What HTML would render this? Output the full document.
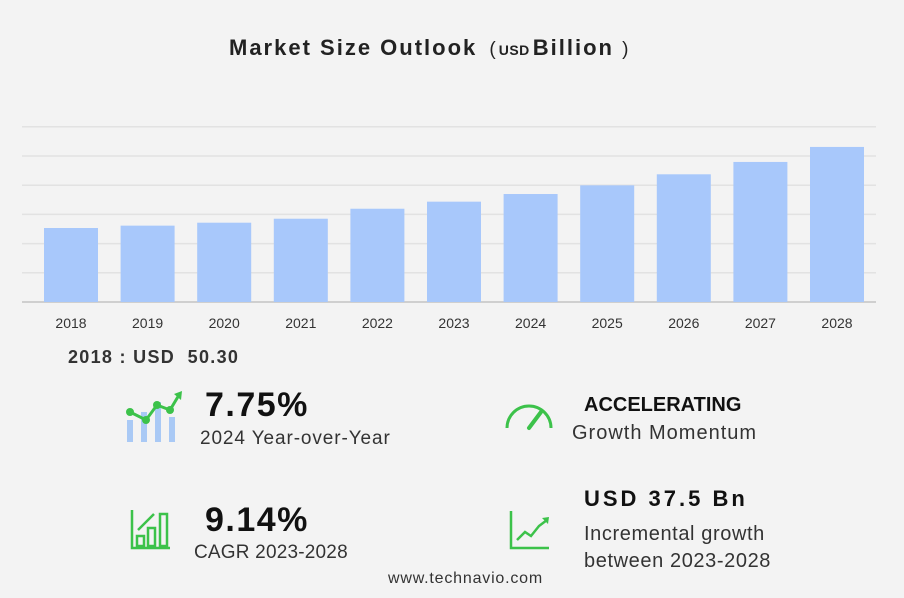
<!DOCTYPE html>
<html><head><meta charset="utf-8"><style>
body{margin:0;background:#f3f3f3;font-family:"Liberation Sans",sans-serif;}
#wrap{position:relative;width:904px;height:598px;overflow:hidden;background:#f3f3f3;}
.t{position:absolute;white-space:nowrap;color:#222;}
</style></head><body>
<div id="wrap">
<div class="t" style="left:229px;top:35px;font-size:22px;font-weight:bold;letter-spacing:2px;">Market Size Outlook <span style="font-weight:normal;font-size:19px;margin-left:4px;letter-spacing:0">(</span><span style="font-size:14px;margin:0 3px;letter-spacing:0.5px">USD</span>Billion <span style="font-weight:normal;font-size:19px;letter-spacing:0">)</span></div>
<svg id="chart" width="904" height="340" style="position:absolute;left:0;top:0"></svg>
<div class="t" style="left:68px;top:347px;font-size:18px;font-weight:bold;color:#333;letter-spacing:1.3px">2018 : USD&nbsp; 50.30</div>

<svg style="position:absolute;left:124px;top:390px" width="60" height="55">
<rect x="3" y="30" width="6" height="22" fill="#a9c9f5"/><rect x="17" y="22" width="6" height="30" fill="#a9c9f5"/><rect x="31" y="12" width="6" height="40" fill="#a9c9f5"/><rect x="45" y="27" width="6" height="25" fill="#a9c9f5"/>
<polyline points="6,22 22,30 33,15 46,20 55,5" fill="none" stroke="#3cc24a" stroke-width="3"/>
<circle cx="6" cy="22" r="4" fill="#3cc24a"/><circle cx="22" cy="30" r="4" fill="#3cc24a"/><circle cx="33" cy="15" r="4" fill="#3cc24a"/><circle cx="46" cy="20" r="4" fill="#3cc24a"/>
<polygon points="50,4 58,1 57,10" fill="#3cc24a"/></svg>
<div class="t" style="left:205px;top:386px;font-size:34px;font-weight:bold;color:#111;letter-spacing:1.5px">7.75%</div>
<div class="t" style="left:200px;top:428px;font-size:19px;color:#333;letter-spacing:0.9px">2024 Year-over-Year</div>

<svg style="position:absolute;left:503px;top:400px" width="52" height="32">
<path d="M4,28 A22,22 0 0 1 48,28" fill="none" stroke="#3cc24a" stroke-width="3"/>
<line x1="26" y1="28" x2="38" y2="12" stroke="#3cc24a" stroke-width="4" stroke-linecap="round"/></svg>
<div class="t" style="left:584px;top:394px;font-size:20px;font-weight:bold;color:#111">ACCELERATING</div>
<div class="t" style="left:572px;top:422px;font-size:20px;color:#333;letter-spacing:1px">Growth Momentum</div>

<svg style="position:absolute;left:130px;top:508px" width="42" height="42">
<path d="M2,2 V40 H40" fill="none" stroke="#3cc24a" stroke-width="2.5"/>
<rect x="7" y="28" width="7" height="10" fill="none" stroke="#3cc24a" stroke-width="2.5"/><rect x="18" y="20" width="7" height="18" fill="none" stroke="#3cc24a" stroke-width="2.5"/><rect x="30" y="6" width="7" height="32" fill="none" stroke="#3cc24a" stroke-width="2.5"/>
<line x1="8" y1="22" x2="24" y2="6" stroke="#3cc24a" stroke-width="2.5"/></svg>
<div class="t" style="left:205px;top:501px;font-size:34px;font-weight:bold;color:#111;letter-spacing:1.5px">9.14%</div>
<div class="t" style="left:194px;top:542px;font-size:19px;color:#333;letter-spacing:0.2px">CAGR 2023-2028</div>

<svg style="position:absolute;left:509px;top:510px" width="42" height="40">
<path d="M2,1 V38 H40" fill="none" stroke="#3cc24a" stroke-width="2.5"/>
<polyline points="8,30 16,22 22,26 30,16 38,10" fill="none" stroke="#3cc24a" stroke-width="2.5"/><polygon points="33,8 40,7 39,14" fill="#3cc24a"/></svg>
<div class="t" style="left:584px;top:486px;font-size:22px;font-weight:bold;color:#111;letter-spacing:3px">USD 37.5 Bn</div>
<div class="t" style="left:584px;top:521px;font-size:20px;color:#333;line-height:27px;letter-spacing:0.6px">Incremental growth<br>between 2023-2028</div>
<div class="t" style="left:388px;top:570px;font-size:16px;color:#333;letter-spacing:0.8px">www.technavio.com</div>
</div>
<script>
const years=["2018","2019","2020","2021","2022","2023","2024","2025","2026","2027","2028"];
const values=[50.3,51.9,53.9,56.6,63.4,68.2,73.4,79.3,86.8,95.2,105.4];
const gridCount=6;
const svg=document.getElementById('chart');const NS='http://www.w3.org/2000/svg';
const base=302, pxPer=74/50.3, x0=44, step=76.6, bw=54;
function y(v){return base-v*pxPer;}
function x(i){return x0+i*step;}
for(let g=0;g<=gridCount;g++){const l=document.createElementNS(NS,'line');const gy=base-g*29.2;
l.setAttribute('x1',22);l.setAttribute('x2',876);l.setAttribute('y1',gy);l.setAttribute('y2',gy);
l.setAttribute('stroke',g==0?'#cfcfcf':'#e2e2e2');l.setAttribute('stroke-width',g==0?2:1.5);


svg.appendChild(l);}
years.forEach((yr,i)=>{const r=document.createElementNS(NS,'rect');
r.setAttribute('x',x(i));r.setAttribute('y',y(values[i]));r.setAttribute('width',bw);r.setAttribute('height',base-y(values[i]));r.setAttribute('fill','#a8c8fb');


svg.appendChild(r);
const t=document.createElementNS(NS,'text');t.setAttribute('x',x(i)+bw/2);t.setAttribute('y',328);t.setAttribute('text-anchor','middle');
t.setAttribute('font-size','14');t.setAttribute('fill','#333');t.setAttribute('font-family','Liberation Sans, sans-serif');t.textContent=yr;


svg.appendChild(t);});
</script>
</body></html>
